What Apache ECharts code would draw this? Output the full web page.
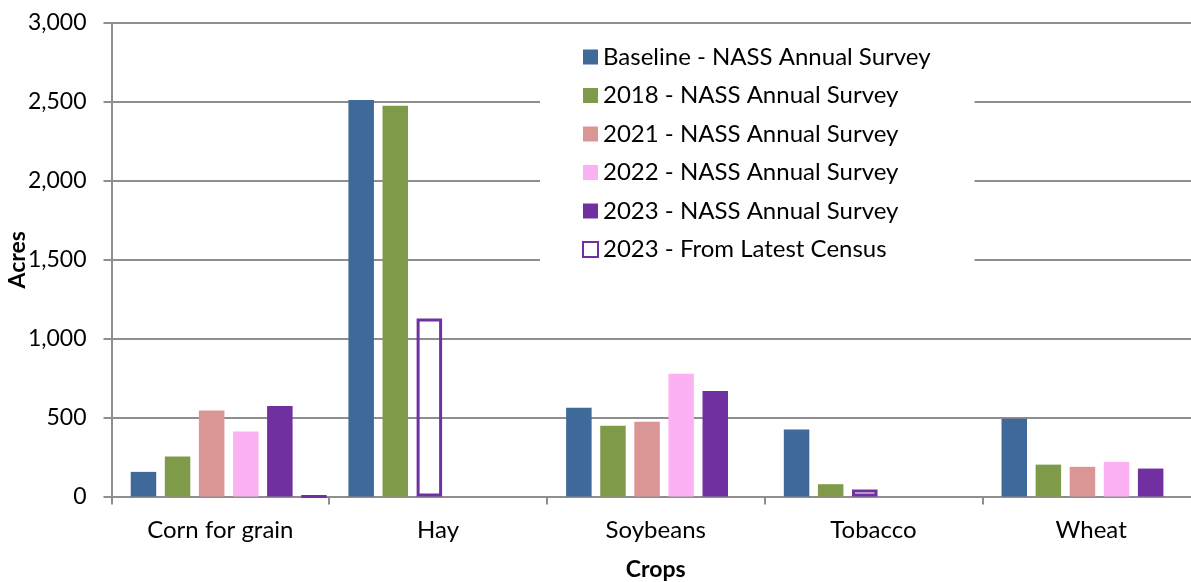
<!DOCTYPE html>
<html>
<head>
<meta charset="utf-8">
<script src="https://cdn.jsdelivr.net/npm/echarts@6/dist/echarts.min.js"></script>
<style>
  html, body { margin: 0; padding: 0; background: #fff; }
  #chart { width: 1191px; height: 582px; }
</style>
</head>
<body>
<div id="chart"></div>
<script>
// crops on the x axis
const categories = ['Corn for grain', 'Hay', 'Soybeans', 'Tobacco', 'Wheat'];

// acres (null = no bar)
const baseline = [156, 2512, 562, 425, 493];
const y2018 = [253, 2476, 448, 78, 202];
const y2021 = [545, null, 474, null, 188];
const y2022 = [412, null, 777, null, 219];
const y2023 = [573, null, 668, null, 177];
const census = [0, 1127, null, 45, null];

const yTicks = [0, 500, 1000, 1500, 2000, 2500, 3000];

const seriesNames = [
  'Baseline - NASS Annual Survey',
  '2018 - NASS Annual Survey',
  '2021 - NASS Annual Survey',
  '2022 - NASS Annual Survey',
  '2023 - NASS Annual Survey',
  '2023 - From Latest Census'
];
const seriesData = [baseline, y2018, y2021, y2022, y2023, census];

const purple = '#7030A0';
const styles = [
  { color: '#3F6998' },
  { color: '#7F9B49' },
  { color: '#D99694' },
  { color: '#FCB2F2' },
  { color: purple },
  { color: 'rgba(0,0,0,0)', borderColor: purple, borderWidth: 3 }
];

// bars are packed left inside each crop (empty series leave no hole),
// so build "slots" and give each item the style of the series it came from
const slots = seriesNames.map(() => categories.map(() => null));
categories.forEach((c, ci) => {
  let k = 0;
  seriesData.forEach((arr, si) => {
    if (arr[ci] === null) return;
    slots[k][ci] = { value: arr[ci], itemStyle: styles[si] };
    k++;
  });
});

const barW = 25.5;
const gap = '33.7%';

const series = [{
  // spacer so the group starts where it does in the picture
  name: '_pad',
  type: 'bar',
  barWidth: 12.5,
  barGap: gap,
  data: categories.map(() => null),
  itemStyle: { color: 'rgba(0,0,0,0)' }
}];
slots.forEach((d, k) => {
  series.push({
    name: seriesNames[k],
    type: 'bar',
    barWidth: barW,
    barGap: gap,
    itemStyle: styles[k],
    data: d
  });
});

const font = 'Lato, "Open Sans", sans-serif';
const grey = '#8e8e8e';

const chart = echarts.init(document.getElementById('chart'));
chart.setOption({
  animation: false,
  textStyle: { fontFamily: font, color: '#000' },
  grid: { left: 111.5, right: -9, top: 23, bottom: 85.5, outerBoundsMode: 'none', containLabel: false },
  legend: {
    data: seriesNames,
    orient: 'vertical',
    left: 540,
    top: 28,
    padding: [17, 44, 11, 42],
    backgroundColor: '#fff',
    icon: 'rect',
    itemWidth: 15,
    itemHeight: 15,
    itemGap: 14.5,
    textStyle: { fontFamily: font, fontSize: 24, lineHeight: 24, color: '#000' }
  },
  xAxis: {
    type: 'category',
    data: categories,
    name: 'Crops',
    nameLocation: 'middle',
    nameGap: 62,
    nameMoveOverlap: false,
    nameTextStyle: { fontFamily: font, fontSize: 23, fontWeight: 'bold', color: '#000' },
    axisLine: { lineStyle: { color: grey, width: 2 } },
    axisTick: { show: true, length: 8, lineStyle: { color: grey, width: 2 } },
    axisLabel: { fontFamily: font, fontSize: 24, color: '#000', margin: 22 }
  },
  yAxis: {
    type: 'value',
    min: yTicks[0],
    max: yTicks[yTicks.length - 1],
    interval: 500,
    name: 'Acres',
    nameLocation: 'middle',
    nameGap: 82,
    nameMoveOverlap: false,
    nameTextStyle: { fontFamily: font, fontSize: 23, fontWeight: 'bold', color: '#000' },
    axisLine: { show: true, lineStyle: { color: grey, width: 2 } },
    axisTick: { show: true, length: 8, lineStyle: { color: grey, width: 2 } },
    splitLine: { lineStyle: { color: grey, width: 2 } },
    axisLabel: {
      fontFamily: font, fontSize: 23, color: '#000', margin: 25,
      formatter: v => v.toLocaleString('en-US')
    }
  },
  series: series
});
</script>
</body>
</html>
